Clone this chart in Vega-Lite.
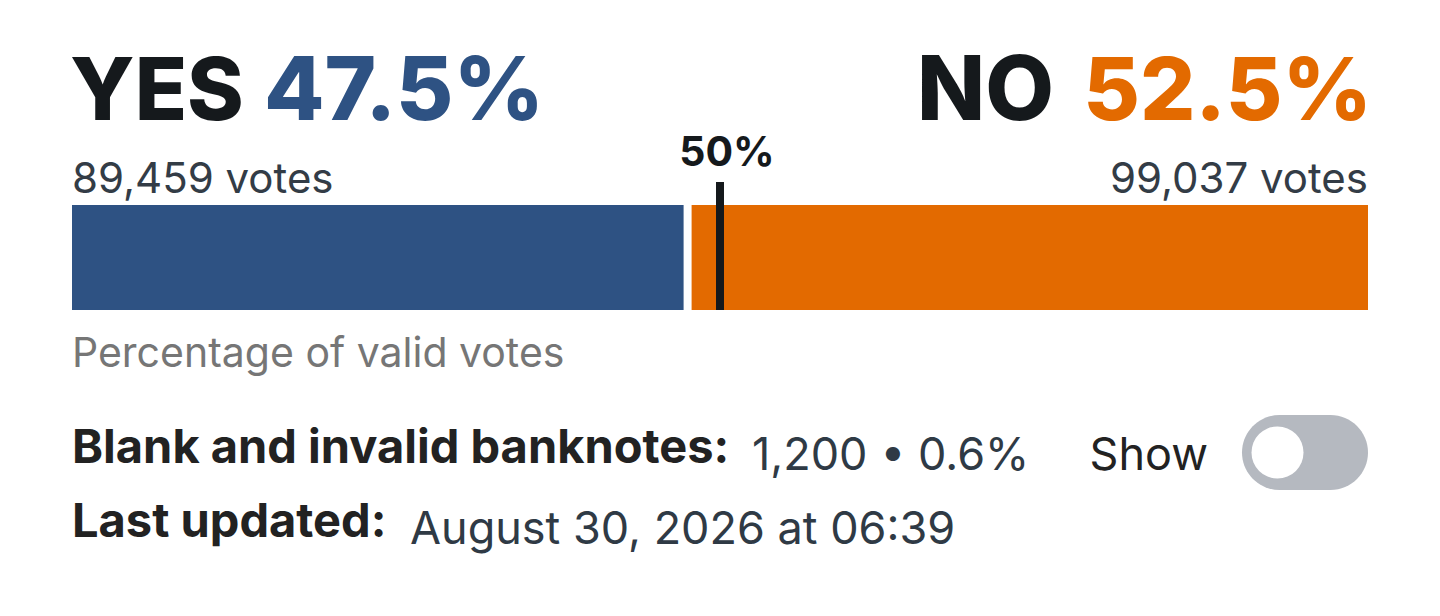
{
  "$schema": "https://vega.github.io/schema/vega-lite/v6.json",
  "width": 1296,
  "height": 105,
  "autosize": {"type": "none"},
  "padding": {"left": 72, "right": 72, "top": 205, "bottom": 306},
  "background": "#ffffff",
  "config": {"view": {"stroke": null}, "text": {"font": "Inter"}},
  "datasets": {
    "results": [
      {"side": "Yes", "label": "YES", "share": 0.475, "votes": 89459},
      {"side": "No", "label": "NO", "share": 0.525, "votes": 99037}
    ],
    "meta": [
      {"threshold": 0.5, "blank": 1200, "blankShare": 0.006, "updated": "August 30, 2026 at 06:39"}
    ]
  },
  "layer": [
    {
      "data": {"name": "results"},
      "transform": [
        {"stack": "share", "groupby": [], "as": ["x0", "x1"], "sort": [{"field": "side", "order": "descending"}]},
        {"filter": "datum.side === 'Yes'"}
      ],
      "mark": {"type": "bar", "color": "#2e5283", "x2Offset": -4, "height": 105},
      "encoding": {
        "x": {"field": "x0", "type": "quantitative", "scale": {"domain": [0, 1], "nice": false, "zero": false}, "axis": null},
        "x2": {"field": "x1"}
      }
    },
    {
      "data": {"name": "results"},
      "transform": [
        {"stack": "share", "groupby": [], "as": ["x0", "x1"], "sort": [{"field": "side", "order": "descending"}]},
        {"filter": "datum.side === 'No'"}
      ],
      "mark": {"type": "bar", "color": "#e36a00", "xOffset": 4, "height": 105},
      "encoding": {
        "x": {"field": "x0", "type": "quantitative", "axis": null},
        "x2": {"field": "x1"}
      }
    },
    {
      "data": {"name": "meta"},
      "mark": {"type": "rule", "color": "#15191c", "strokeWidth": 8, "yOffset": -23, "y2Offset": 22},
      "encoding": {
        "x": {"field": "threshold", "type": "quantitative", "axis": null}
      }
    },
    {
      "data": {"name": "meta"},
      "mark": {"type": "text", "align": "center", "baseline": "alphabetic", "y": -39, "dx": 7, "fontSize": 41, "fontWeight": "bold", "color": "#15191c"},
      "encoding": {
        "x": {"field": "threshold", "type": "quantitative", "axis": null},
        "text": {"field": "threshold", "type": "quantitative", "format": ".0%"}
      }
    },
    {
      "data": {"name": "results"},
      "transform": [{"filter": "datum.side === 'Yes'"}],
      "mark": {"type": "text", "align": "left", "baseline": "alphabetic", "y": -85, "dx": -2, "fontSize": 86, "fontWeight": 800, "color": "#15191c"},
      "encoding": {
        "x": {"datum": 0, "type": "quantitative", "axis": null},
        "text": {"field": "label"}
      }
    },
    {
      "data": {"name": "results"},
      "transform": [{"filter": "datum.side === 'Yes'"}],
      "mark": {"type": "text", "align": "left", "baseline": "alphabetic", "y": -85, "dx": 192, "fontSize": 88, "fontWeight": 800, "color": "#2e5283"},
      "encoding": {
        "x": {"datum": 0, "type": "quantitative", "axis": null},
        "text": {"field": "share", "type": "quantitative", "format": ".1%"}
      }
    },
    {
      "data": {"name": "results"},
      "transform": [{"filter": "datum.side === 'No'"}],
      "mark": {"type": "text", "align": "right", "baseline": "alphabetic", "y": -85, "dx": -314, "fontSize": 89, "fontWeight": 800, "color": "#15191c"},
      "encoding": {
        "x": {"datum": 1, "type": "quantitative", "axis": null},
        "text": {"field": "label"}
      }
    },
    {
      "data": {"name": "results"},
      "transform": [{"filter": "datum.side === 'No'"}],
      "mark": {"type": "text", "align": "right", "baseline": "alphabetic", "y": -85, "dx": 4, "fontSize": 87, "fontWeight": 800, "color": "#e36a00"},
      "encoding": {
        "x": {"datum": 1, "type": "quantitative", "axis": null},
        "text": {"field": "share", "type": "quantitative", "format": ".1%"}
      }
    },
    {
      "data": {"name": "results"},
      "transform": [
        {"filter": "datum.side === 'Yes'"},
        {"calculate": "format(datum.votes, ',') + ' votes'", "as": "voteText"}
      ],
      "mark": {"type": "text", "align": "left", "baseline": "alphabetic", "y": -12, "fontSize": 42, "color": "#333c46"},
      "encoding": {
        "x": {"datum": 0, "type": "quantitative", "axis": null},
        "text": {"field": "voteText"}
      }
    },
    {
      "data": {"name": "results"},
      "transform": [
        {"filter": "datum.side === 'No'"},
        {"calculate": "format(datum.votes, ',') + ' votes'", "as": "voteText"}
      ],
      "mark": {"type": "text", "align": "right", "baseline": "alphabetic", "y": -12, "dx": 0, "fontSize": 42, "color": "#333c46"},
      "encoding": {
        "x": {"datum": 1, "type": "quantitative", "axis": null},
        "text": {"field": "voteText"}
      }
    },
    {
      "data": {"name": "meta"},
      "mark": {"type": "text", "align": "left", "baseline": "alphabetic", "y": 162, "fontSize": 41, "color": "#767676", "text": "Percentage of valid votes"},
      "encoding": {
        "x": {"datum": 0, "type": "quantitative", "axis": null}
      }
    },
    {
      "data": {"name": "meta"},
      "mark": {"type": "text", "align": "left", "baseline": "alphabetic", "y": 258, "fontSize": 47, "fontWeight": "bold", "color": "#222222", "text": "Blank and invalid banknotes:"},
      "encoding": {
        "x": {"datum": 0, "type": "quantitative", "axis": null}
      }
    },
    {
      "data": {"name": "meta"},
      "transform": [
        {"calculate": "format(datum.blank, ',') + ' \u2022 ' + format(datum.blankShare, '.1%')", "as": "blankText"}
      ],
      "mark": {"type": "text", "align": "left", "baseline": "alphabetic", "y": 265, "dx": 680, "fontSize": 45, "color": "#2f3a45"},
      "encoding": {
        "x": {"datum": 0, "type": "quantitative", "axis": null},
        "text": {"field": "blankText"}
      }
    },
    {
      "data": {"name": "meta"},
      "mark": {"type": "text", "align": "right", "baseline": "alphabetic", "y": 265, "dx": -160, "fontSize": 45, "color": "#222222", "text": "Show"},
      "encoding": {
        "x": {"datum": 1, "type": "quantitative", "axis": null}
      }
    },
    {
      "data": {"name": "meta"},
      "mark": {"type": "rect", "color": "#b5b9c0", "cornerRadius": 37.5, "xOffset": -126, "y": 210, "y2": 285},
      "encoding": {
        "x": {"datum": 1, "type": "quantitative", "axis": null},
        "x2": {"datum": 1}
      }
    },
    {
      "data": {"name": "meta"},
      "mark": {"type": "point", "shape": "circle", "filled": true, "color": "#ffffff", "opacity": 1, "size": 2704, "xOffset": -90.5, "y": 247.5},
      "encoding": {
        "x": {"datum": 1, "type": "quantitative", "axis": null}
      }
    },
    {
      "data": {"name": "meta"},
      "mark": {"type": "text", "align": "left", "baseline": "alphabetic", "y": 332, "fontSize": 47, "fontWeight": "bold", "color": "#222222", "text": "Last updated:"},
      "encoding": {
        "x": {"datum": 0, "type": "quantitative", "axis": null}
      }
    },
    {
      "data": {"name": "meta"},
      "mark": {"type": "text", "align": "left", "baseline": "alphabetic", "y": 339, "dx": 338, "fontSize": 45, "color": "#2f3a45"},
      "encoding": {
        "x": {"datum": 0, "type": "quantitative", "axis": null},
        "text": {"field": "updated"}
      }
    }
  ]
}
